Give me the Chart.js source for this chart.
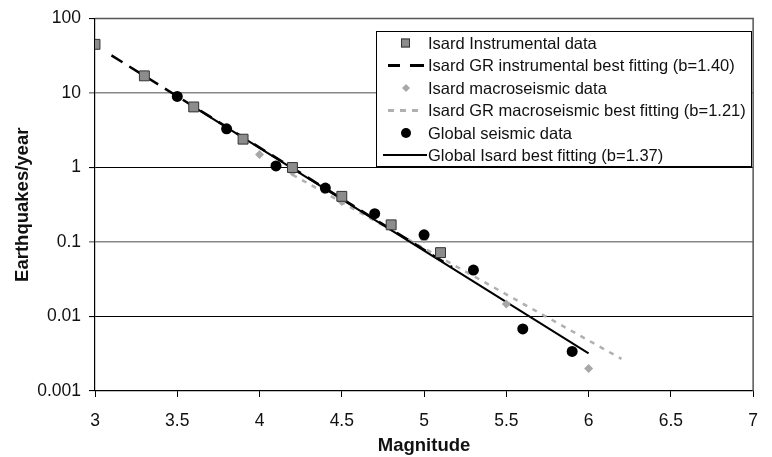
<!DOCTYPE html>
<html>
<head>
<meta charset="utf-8">
<script src="https://cdn.jsdelivr.net/npm/chart.js@4/dist/chart.umd.min.js"></script>
<style>
  html, body { margin: 0; padding: 0; background: #fff; }
</style>
</head>
<body>
<canvas id="chart" width="772" height="457"></canvas>
<script>
// === data ===
const instrMag = [3.0, 3.3, 3.6, 3.9, 4.2, 4.5, 4.8, 5.1];
const instrRate = [45, 17, 6.5, 2.4, 1.0, 0.41, 0.17, 0.072];

const macroMag = [4.0, 4.2, 4.5, 5.0, 5.5, 6.0];
const macroRate = [1.5, 0.87, 0.35, 0.11, 0.0147, 0.0020];

const globalMag = [3.5, 3.8, 4.1, 4.4, 4.7, 5.0, 5.3, 5.6, 5.9];
const globalRate = [9.0, 3.3, 1.05, 0.53, 0.24, 0.125, 0.042, 0.0068, 0.0034];

// fitted lines (end points)
const instrFitMag = [3.1, 5.17];
const instrFitRate = [32, 0.046];
const macroFitMag = [4.2, 6.2];
const macroFitRate = [0.8, 0.0027];
const globalFitMag = [3.6, 6.0];
const globalFitRate = [6.5, 0.0032];

const yTicks = [0.001, 0.01, 0.1, 1, 10, 100];
const legendLabels = [
  'Isard Instrumental data',
  'Isard GR instrumental best fitting (b=1.40)',
  'Isard macroseismic data',
  'Isard GR macroseismic best fitting (b=1.21)',
  'Global seismic data',
  'Global Isard best fitting (b=1.37)'
];

const FONT = "'Liberation Sans', Arial, sans-serif";
const toPts = (xs, ys) => xs.map((x, i) => ({ x: x, y: ys[i] }));

// === frame + legend drawn on top ===
const framePlugin = {
  id: 'frame',
  afterDatasetsDraw(chart) {
    const { ctx, chartArea: a } = chart;
    ctx.save();
    ctx.strokeStyle = '#555';
    ctx.lineWidth = 1.5;
    ctx.beginPath();
    ctx.moveTo(a.left, a.top);
    ctx.lineTo(a.right, a.top);
    ctx.lineTo(a.right, a.bottom);
    ctx.stroke();
    ctx.restore();
  },
  afterDraw(chart) {
    const ctx = chart.ctx;
    const bx = 376, by = 31, bw = 375, bh = 135;
    ctx.save();
    ctx.fillStyle = '#fff';
    ctx.fillRect(bx, by, bw, bh);
    ctx.strokeStyle = '#000';
    ctx.lineWidth = 1;
    ctx.strokeRect(bx + 0.5, by + 0.5, bw, bh);

    const rowY = [43, 65.5, 88, 110.5, 133, 155];
    const sx = 406;
    ctx.font = '16.5px ' + FONT;
    ctx.textBaseline = 'middle';
    ctx.fillStyle = '#111';
    legendLabels.forEach((t, i) => ctx.fillText(t, 428, rowY[i] + 1));

    // square
    ctx.fillStyle = '#8c8c8c';
    ctx.strokeStyle = '#333';
    ctx.lineWidth = 1;
    ctx.fillRect(401, rowY[0] - 4.5, 9, 9);
    ctx.strokeRect(401.5, rowY[0] - 4, 8, 8);
    // dashed black
    ctx.strokeStyle = '#000';
    ctx.lineWidth = 3;
    ctx.beginPath();
    ctx.moveTo(388, rowY[1]); ctx.lineTo(400, rowY[1]);
    ctx.moveTo(410, rowY[1]); ctx.lineTo(424, rowY[1]);
    ctx.stroke();
    // diamond
    ctx.fillStyle = '#a8a8a8';
    ctx.beginPath();
    ctx.moveTo(sx, rowY[2] - 4); ctx.lineTo(sx + 4, rowY[2]);
    ctx.lineTo(sx, rowY[2] + 4); ctx.lineTo(sx - 4, rowY[2]);
    ctx.closePath(); ctx.fill();
    // dotted gray
    ctx.strokeStyle = '#b0b0b0';
    ctx.lineWidth = 3;
    ctx.beginPath();
    [388, 400, 412].forEach(x => { ctx.moveTo(x, rowY[3]); ctx.lineTo(x + 6, rowY[3]); });
    ctx.stroke();
    // circle
    ctx.fillStyle = '#000';
    ctx.beginPath();
    ctx.arc(sx, rowY[4], 5, 0, Math.PI * 2);
    ctx.fill();
    // solid
    ctx.strokeStyle = '#000';
    ctx.lineWidth = 2;
    ctx.beginPath();
    ctx.moveTo(383, rowY[5]); ctx.lineTo(427, rowY[5]);
    ctx.stroke();
    ctx.restore();
  }
};

const ctx = document.getElementById('chart').getContext('2d');
new Chart(ctx, {
  type: 'scatter',
  data: {
    datasets: [
      {
        label: legendLabels[4],
        data: toPts(globalMag, globalRate),
        pointStyle: 'circle', pointRadius: 5.5,
        backgroundColor: '#000', borderColor: '#000', borderWidth: 0
      },
      {
        label: legendLabels[0],
        data: toPts(instrMag, instrRate),
        pointStyle: 'rect', pointRadius: 7,
        backgroundColor: '#8c8c8c', borderColor: '#333', borderWidth: 1
      },
      {
        label: legendLabels[2],
        data: toPts(macroMag, macroRate),
        pointStyle: 'rectRot', pointRadius: 4.5,
        backgroundColor: '#a8a8a8', borderColor: '#a8a8a8', borderWidth: 0
      },
      {
        label: legendLabels[5],
        data: toPts(globalFitMag, globalFitRate),
        showLine: true, pointRadius: 0,
        borderColor: '#000', borderWidth: 2
      },
      {
        label: legendLabels[1],
        data: toPts(instrFitMag, instrFitRate),
        showLine: true, pointRadius: 0,
        borderColor: '#000', borderWidth: 2.5, borderDash: [13, 8]
      },
      {
        label: legendLabels[3],
        data: toPts(macroFitMag, macroFitRate),
        showLine: true, pointRadius: 0,
        borderColor: '#b0b0b0', borderWidth: 2.5, borderDash: [5, 6]
      }
    ]
  },
  options: {
    responsive: false,
    animation: false,
    layout: { padding: { top: 18, right: 15, left: 0, bottom: 0 } },
    plugins: { legend: { display: false }, tooltip: { enabled: false } },
    scales: {
      x: {
        type: 'linear', min: 3, max: 7,
        ticks: {
          stepSize: 0.5, padding: 14, color: '#111', font: { family: FONT, size: 17.5 },
          callback: v => String(v)
        },
        grid: { drawOnChartArea: false, drawTicks: true, tickLength: 6, color: '#000' },
        border: { display: true, color: '#000', width: 1.2 },
        title: {
          display: true, text: 'Magnitude', color: '#111',
          font: { family: FONT, size: 18.5, weight: 'bold' },
          padding: { top: 0, bottom: 0 }
        },
        afterFit(scale) { scale.height = 66; }
      },
      y: {
        type: 'logarithmic', min: 0.001, max: 100,
        afterBuildTicks(scale) { scale.ticks = yTicks.map(v => ({ value: v })); },
        ticks: {
          padding: 8, color: '#111', font: { family: FONT, size: 17.5 },
          callback: v => String(v)
        },
        grid: {
          tickLength: 6,
          color: c => (c.tick && (c.tick.value === 10 || c.tick.value === 0.1)) ? '#888' : '#000',
          lineWidth: c => (c.tick && (c.tick.value === 10 || c.tick.value === 0.1)) ? 1.6 : 1.1
        },
        border: { display: true, color: '#000', width: 1.2 },
        title: {
          display: true, text: 'Earthquakes/year', color: '#111',
          font: { family: FONT, size: 18.5, weight: 'bold' },
          padding: { top: 12, bottom: 0 }
        },
        afterFit(scale) { scale.width = 95; }
      }
    }
  },
  plugins: [framePlugin]
});
</script>
</body>
</html>
